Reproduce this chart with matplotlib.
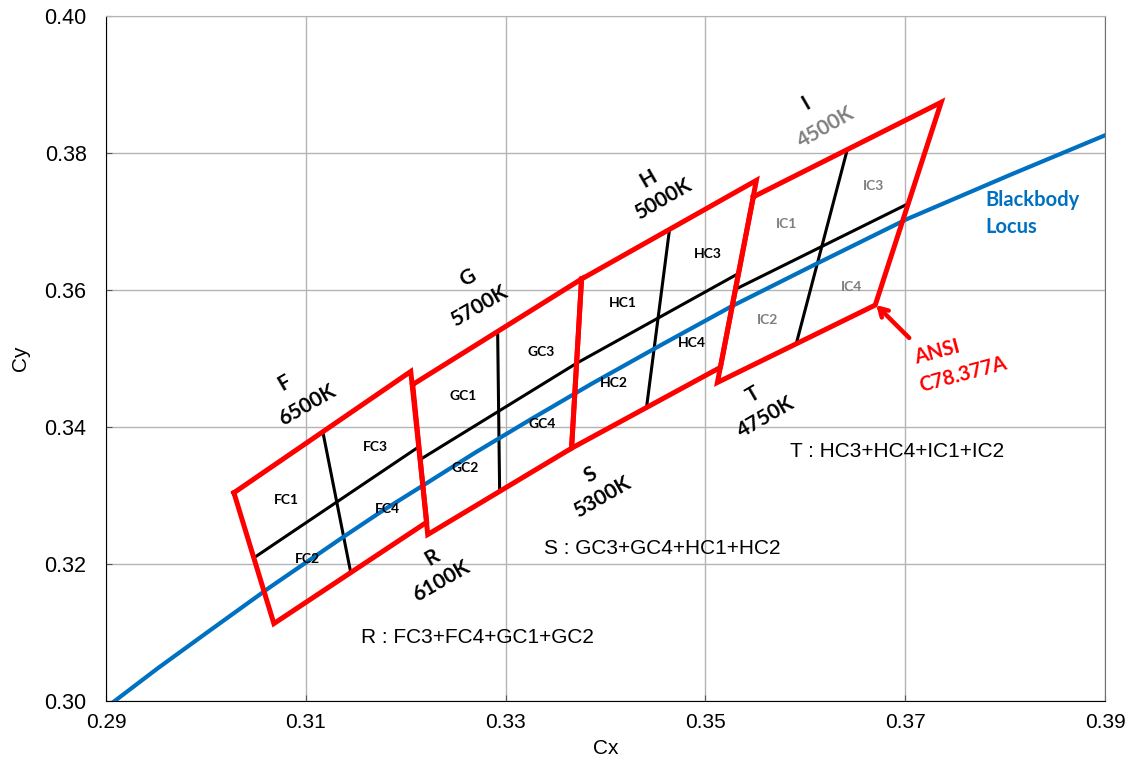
import matplotlib
matplotlib.use("Agg")
import matplotlib.pyplot as plt

# ANSI C78.377A quadrangles, corners: top-left, top-right, bottom-right, bottom-left
ansi_6500k_x = [0.3028, 0.3205, 0.3221, 0.3068]
ansi_6500k_y = [0.3304, 0.3481, 0.3261, 0.3113]
ansi_5700k_x = [0.3207, 0.3376, 0.3366, 0.3222]
ansi_5700k_y = [0.3462, 0.3616, 0.3369, 0.3243]
ansi_5000k_x = [0.3376, 0.3551, 0.3515, 0.3366]
ansi_5000k_y = [0.3616, 0.3760, 0.3487, 0.3369]
ansi_4500k_x = [0.3548, 0.3736, 0.3670, 0.3512]
ansi_4500k_y = [0.3736, 0.3874, 0.3578, 0.3465]

# sub-bin dividing lines (left-mid -> right-mid, top-mid -> bottom-mid)
split_h_x = [[0.3048, 0.3213], [0.3215, 0.3371], [0.3371, 0.3533], [0.3530, 0.3703]]
split_h_y = [[0.3209, 0.3371], [0.3353, 0.3493], [0.3493, 0.3624], [0.3601, 0.3726]]
split_v_x = [[0.3117, 0.3145], [0.3292, 0.3294], [0.3464, 0.3441], [0.3642, 0.3591]]
split_v_y = [[0.3393, 0.3187], [0.3539, 0.3306], [0.3688, 0.3428], [0.3805, 0.3522]]

# Planckian (blackbody) locus, CIE 1931 xy
bb_x = [0.2807, 0.2869, 0.2952, 0.3004, 0.3064, 0.3135, 0.3176, 0.3221, 0.3270,
        0.3325, 0.3386, 0.3451, 0.3526, 0.3608, 0.3701, 0.3805, 0.3920, 0.4053]
bb_y = [0.2884, 0.2956, 0.3048, 0.3103, 0.3166, 0.3237, 0.3277, 0.3318, 0.3363,
        0.3411, 0.3463, 0.3516, 0.3576, 0.3636, 0.3703, 0.3768, 0.3838, 0.3907]

# cell labels
cell_names = ["FC1", "FC2", "FC3", "FC4", "GC1", "GC2", "GC3", "GC4",
              "HC1", "HC2", "HC3", "HC4", "IC1", "IC2", "IC3", "IC4"]
cell_x = [0.3081, 0.3102, 0.3170, 0.3182, 0.3257, 0.3260, 0.3336, 0.3337,
          0.3417, 0.3408, 0.3502, 0.3486, 0.3581, 0.3562, 0.3668, 0.3646]
cell_y = [0.3293, 0.3207, 0.3371, 0.3280, 0.3445, 0.3340, 0.3509, 0.3405,
          0.3581, 0.3464, 0.3653, 0.3523, 0.3697, 0.3556, 0.3752, 0.3604]

# bin letters and CCT labels
bin_letters = ["F", "G", "H", "I", "R", "S", "T"]
bin_cct = ["6500K", "5700K", "5000K", "4500K", "6100K", "5300K", "4750K"]
letter_x = [0.3079, 0.3262, 0.3443, 0.3601, 0.3226, 0.3385, 0.3548]
letter_y = [0.3465, 0.3617, 0.3763, 0.3872, 0.3210, 0.3330, 0.3447]
cct_x = [0.3101, 0.3273, 0.3458, 0.3621, 0.3236, 0.3397, 0.3561]
cct_y = [0.3432, 0.3577, 0.3733, 0.3838, 0.3175, 0.3298, 0.3415]

combo_text = ["R : FC3+FC4+GC1+GC2", "S : GC3+GC4+HC1+HC2", "T : HC3+HC4+IC1+IC2"]
combo_x = [0.3272, 0.3457, 0.3692]
combo_y = [0.3093, 0.3222, 0.3364]

RED = "#ff0000"
BLUE = "#0070c0"
GRAY = "#808080"
LBL = ["Lato", "DejaVu Sans"]
TXT = ["Liberation Sans", "DejaVu Sans"]

fig = plt.figure(figsize=(11.33, 7.65), dpi=100)
ax = fig.add_axes([0.0936, 0.0837, 0.8817, 0.8954])

ax.set_xlim(0.29, 0.39)
ax.set_ylim(0.30, 0.40)
ax.set_xticks([0.29, 0.31, 0.33, 0.35, 0.37, 0.39])
ax.set_yticks([0.30, 0.32, 0.34, 0.36, 0.38, 0.40])
ax.set_xticklabels(["0.29", "0.31", "0.33", "0.35", "0.37", "0.39"], family=TXT, fontsize=15)
ax.set_yticklabels(["0.30", "0.32", "0.34", "0.36", "0.38", "0.40"], family=TXT, fontsize=15.5)
ax.grid(True, color="#b4b4b4", linewidth=1.0)
ax.set_axisbelow(True)
ax.tick_params(axis="both", direction="in", length=4, color="#555555")
ax.tick_params(axis="x", pad=9)
ax.tick_params(axis="y", pad=14)
ax.spines["left"].set_color("black")
ax.spines["bottom"].set_color("black")
ax.spines["top"].set_color("#b4b4b4")
ax.spines["right"].set_color("#707070")
ax.set_xlabel("Cx", family=TXT, fontsize=15, labelpad=5)
ax.set_ylabel("Cy", family=TXT, fontsize=15, labelpad=10)

# sub-bin lines
for hx, hy, vx, vy in zip(split_h_x, split_h_y, split_v_x, split_v_y):
    ax.plot(hx, hy, color="black", linewidth=2.2, zorder=3)
    ax.plot(vx, vy, color="black", linewidth=2.2, zorder=3)

# blackbody locus
ax.plot(bb_x, bb_y, color=BLUE, linewidth=3.0, zorder=4)

# ANSI quadrangles
for qx, qy in [(ansi_6500k_x, ansi_6500k_y), (ansi_5700k_x, ansi_5700k_y),
               (ansi_5000k_x, ansi_5000k_y), (ansi_4500k_x, ansi_4500k_y)]:
    ax.plot(qx + qx[:1], qy + qy[:1], color=RED, linewidth=3.6,
            solid_joinstyle="miter", zorder=5)

for name, x, y in zip(cell_names, cell_x, cell_y):
    c = "#7f7f7f" if name.startswith("I") else "black"
    ax.text(x, y, name, family=LBL, fontsize=10, fontweight="bold", color=c,
            ha="center", va="center", zorder=6)

for i in range(len(bin_letters)):
    c_cct = GRAY if bin_cct[i] == "4500K" else "black"
    ax.text(letter_x[i], letter_y[i], bin_letters[i], family=LBL, fontsize=15,
            fontweight="bold", rotation=30, ha="center", va="center", zorder=6)
    ax.text(cct_x[i], cct_y[i], bin_cct[i], family=LBL, fontsize=15, color=c_cct,
            fontweight="bold", rotation=30, ha="center", va="center",
            rotation_mode="anchor", zorder=6)

for t, x, y in zip(combo_text, combo_x, combo_y):
    ax.text(x, y, t, family=TXT, fontsize=15, ha="center", va="center", zorder=6)

ax.text(0.3780, 0.3731, "Blackbody", family=LBL, fontsize=14.5, fontweight="bold",
        color=BLUE, ha="left", va="center", zorder=6)
ax.text(0.3780, 0.3692, "Locus", family=LBL, fontsize=14.5, fontweight="bold",
        color=BLUE, ha="left", va="center", zorder=6)

ax.text(0.3732, 0.3509, "ANSI", family=LBL, fontsize=14.5, fontweight="bold",
        color=RED, rotation=15, ha="center", va="center", rotation_mode="anchor", zorder=6)
ax.text(0.3758, 0.3477, "C78.377A", family=LBL, fontsize=14.5, fontweight="bold",
        color=RED, rotation=15, ha="center", va="center", rotation_mode="anchor", zorder=6)
ax.annotate("", xy=(0.3671, 0.3578), xytext=(0.3704, 0.3530),
            arrowprops=dict(arrowstyle="->,head_length=0.6,head_width=0.35",
                            color=RED, linewidth=3.2, shrinkA=0, shrinkB=0),
            zorder=6)

fig.savefig("out.png", dpi=100, facecolor="white")
